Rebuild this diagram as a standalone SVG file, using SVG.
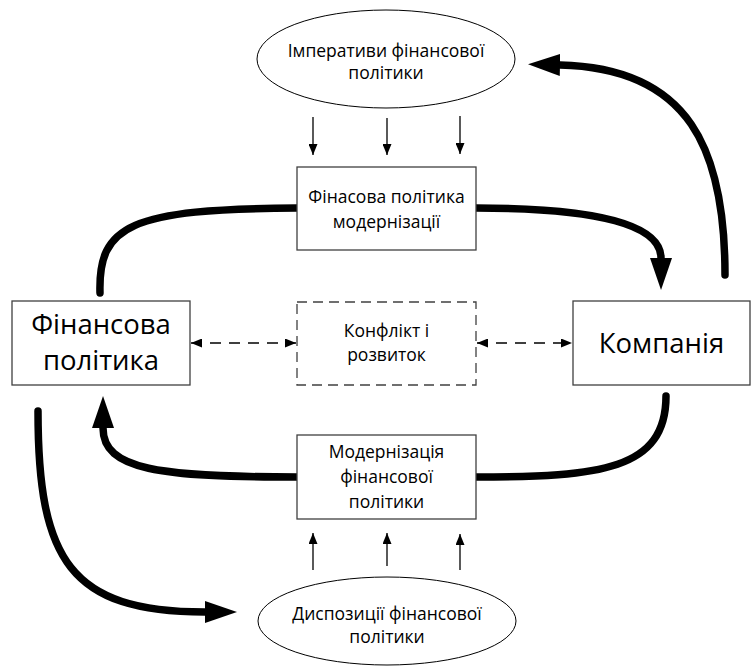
<svg xmlns="http://www.w3.org/2000/svg" width="751" height="668" viewBox="0 0 751 668">
<defs>
<style>
.box{fill:#fff;stroke:#404040;stroke-width:1.3}
.dbox{fill:#fff;stroke:#404040;stroke-width:1.3;stroke-dasharray:10 6}
.ell{fill:#fff;stroke:#000;stroke-width:1}
.t{font-family:"Open Sans","Noto Sans",sans-serif;font-size:17.5px;fill:#000;text-anchor:middle}
.tb{font-family:"Open Sans","Noto Sans",sans-serif;font-size:27.5px;fill:#000;text-anchor:middle}
.thick{fill:none;stroke:#000;stroke-width:7.5;stroke-linecap:round}
.thin{fill:none;stroke:#000;stroke-width:1.3}
.dash{fill:none;stroke:#000;stroke-width:1.3;stroke-dasharray:11 8}
</style>
<marker id="big" markerUnits="userSpaceOnUse" markerWidth="32" markerHeight="22" viewBox="0 0 32 22" refX="0" refY="11" orient="auto"><path d="M0,0 L32,11 L0,22 z" fill="#000"/></marker>
<marker id="sm" markerUnits="userSpaceOnUse" markerWidth="11" markerHeight="9" viewBox="0 0 11 9" refX="11" refY="4.5" orient="auto-start-reverse"><path d="M0,0 L11,4.5 L0,9 z" fill="#000"/></marker>
</defs>
<rect width="751" height="668" fill="#fff"/>
<g id="connectors">
<path class="thick" d="M100,293 C98,225 130,209 297,208"/>
<path class="thick" d="M476,208 C600,208 661,225 661,258" marker-end="url(#big)"/>
<path class="thick" d="M725,275 C725,150 690,68 560,65" marker-end="url(#big)"/>
<path class="thick" d="M297,477 C160,477 103,470 103,428" marker-end="url(#big)"/>
<path class="thick" d="M38,411 C38,560 70,612 205,612" marker-end="url(#big)"/>
<path class="thick" d="M476,477 C600,477 666,470 666,396"/>
<path class="dash" d="M191,343 L296,343" marker-start="url(#sm)" marker-end="url(#sm)"/>
<path class="dash" d="M477,343 L572,343" marker-start="url(#sm)" marker-end="url(#sm)"/>
<path class="thin" d="M313,117 L313,155" marker-end="url(#sm)"/>
<path class="thin" d="M387,118 L387,155" marker-end="url(#sm)"/>
<path class="thin" d="M460,116 L460,154" marker-end="url(#sm)"/>
<path class="thin" d="M313,570 L313,533" marker-end="url(#sm)"/>
<path class="thin" d="M387,566 L387,533" marker-end="url(#sm)"/>
<path class="thin" d="M460,570 L460,534" marker-end="url(#sm)"/>
</g>
<g id="imperatives">
<ellipse class="ell" cx="386" cy="59" rx="129" ry="49"/>
<text class="t" x="386" y="57">Імперативи фінансової</text>
<text class="t" x="386" y="79">політики</text>
</g>
<g id="fin-policy-modern">
<rect class="box" x="297" y="167" width="179" height="83"/>
<text class="t" x="386.5" y="203">Фінасова політика</text>
<text class="t" x="386.5" y="228">модернізації</text>
</g>
<g id="fin-policy">
<rect class="box" x="12" y="301" width="178" height="84"/>
<text class="tb" x="101" y="334">Фінансова</text>
<text class="tb" x="101" y="370">політика</text>
</g>
<g id="conflict">
<rect class="dbox" x="297" y="302" width="179" height="83"/>
<text class="t" x="386.5" y="337">Конфлікт і</text>
<text class="t" x="386.5" y="361">розвиток</text>
</g>
<g id="company">
<rect class="box" x="573" y="301" width="177" height="84"/>
<text class="tb" x="661.5" y="353">Компанія</text>
</g>
<g id="modernization">
<rect class="box" x="297" y="435" width="179" height="84"/>
<text class="t" x="386.5" y="458">Модернізація</text>
<text class="t" x="386.5" y="483">фінансової</text>
<text class="t" x="386.5" y="508">політики</text>
</g>
<g id="dispositions">
<ellipse class="ell" cx="387" cy="621" rx="129" ry="44"/>
<text class="t" x="387" y="620">Диспозиції фінансової</text>
<text class="t" x="387" y="643">політики</text>
</g>
</svg>
